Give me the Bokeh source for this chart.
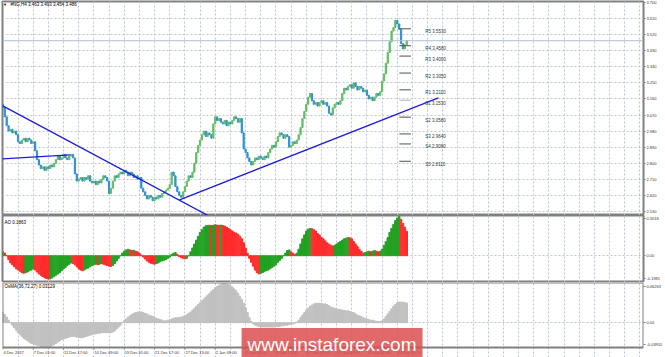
from bokeh.plotting import figure
from bokeh.layouts import column
from bokeh.models import Range1d, FixedTicker, Span, Label, ColumnDataSource
from bokeh.embed import file_html
from bokeh.resources import INLINE
from bokeh.core.properties import value

# ---------------- data ----------------
close = [
    3.11, 3.06, 3.01, 2.98, 2.99, 2.97, 2.98, 2.96, 2.92, 2.91,
    2.93, 2.94, 2.92, 2.94, 2.93, 2.91, 2.92, 2.87, 2.82, 2.79,
    2.77, 2.78, 2.76, 2.78, 2.77, 2.79, 2.78, 2.80, 2.82, 2.84,
    2.82, 2.83, 2.85, 2.83, 2.82, 2.84, 2.85, 2.83, 2.74, 2.70,
    2.71, 2.72, 2.70, 2.72, 2.71, 2.73, 2.70, 2.69, 2.70, 2.68,
    2.70, 2.69, 2.71, 2.73, 2.72, 2.70, 2.63, 2.66, 2.70, 2.73,
    2.72, 2.74, 2.75, 2.74, 2.76, 2.75, 2.73, 2.75, 2.74, 2.72,
    2.73, 2.71, 2.72, 2.66, 2.64, 2.62, 2.60, 2.62, 2.61, 2.59,
    2.61, 2.60, 2.62, 2.61, 2.63, 2.64, 2.65, 2.66, 2.68, 2.75,
    2.73, 2.67, 2.64, 2.62, 2.61, 2.64, 2.67, 2.70, 2.73, 2.72,
    2.75, 2.80, 2.86, 2.90, 2.93, 2.96, 2.98, 2.95, 2.97, 2.96,
    2.94, 3.02, 3.06, 3.04, 3.05, 3.03, 3.02, 3.04, 3.01, 3.03,
    3.02, 3.04, 3.06, 3.05, 3.03, 3.05, 2.97, 2.88, 2.86, 2.83,
    2.81, 2.79, 2.81, 2.83, 2.82, 2.84, 2.83, 2.82, 2.84, 2.83,
    2.86, 2.88, 2.90, 2.89, 2.92, 2.95, 2.97, 2.96, 2.94, 2.96,
    2.95, 2.89, 2.90, 2.92, 2.91, 2.93, 2.96, 3.00, 3.05, 3.09,
    3.13, 3.17, 3.19, 3.15, 3.13, 3.14, 3.12, 3.14, 3.15, 3.13,
    3.14, 3.12, 3.08, 3.07, 3.11, 3.13, 3.14, 3.13, 3.15, 3.19,
    3.22, 3.21, 3.23, 3.24, 3.22, 3.25, 3.23, 3.21, 3.23, 3.22,
    3.20, 3.21, 3.18, 3.16, 3.17, 3.15, 3.17, 3.19, 3.18, 3.20,
    3.26, 3.30, 3.36, 3.42, 3.48, 3.54, 3.56, 3.60, 3.58, 3.55,
    3.47, 3.44, 3.463, 3.486,
]
first_open = 3.13

ao = [
    0.03, 0.02, 0.00, -0.03, -0.055, -0.07, -0.085, -0.10, -0.11, -0.12,
    -0.13, -0.135, -0.13, -0.125, -0.115, -0.11, -0.10, -0.11, -0.125, -0.14,
    -0.15, -0.16, -0.17, -0.175, -0.18, -0.178, -0.17, -0.16, -0.15, -0.14,
    -0.13, -0.115, -0.10, -0.09, -0.075, -0.065, -0.055, -0.06, -0.07, -0.085,
    -0.10, -0.11, -0.115, -0.11, -0.10, -0.095, -0.085, -0.075, -0.07, -0.065,
    -0.07, -0.065, -0.06, -0.065, -0.07, -0.075, -0.08, -0.082, -0.075, -0.06,
    -0.04, -0.02, 0.00, 0.02, 0.035, 0.045, 0.05, 0.045, 0.04, 0.042,
    0.035, 0.03, 0.02, 0.005, -0.01, -0.025, -0.04, -0.05, -0.058, -0.062,
    -0.065, -0.06, -0.055, -0.045, -0.04, -0.035, -0.03, -0.02, -0.01, 0.01,
    0.02, 0.025, 0.01, -0.005, -0.015, -0.02, -0.025, -0.02, 0.00, 0.03,
    0.06, 0.09, 0.12, 0.15, 0.18, 0.20, 0.22, 0.23, 0.232, 0.235,
    0.232, 0.235, 0.238, 0.236, 0.234, 0.236, 0.233, 0.228, 0.22, 0.21,
    0.20, 0.19, 0.18, 0.175, 0.165, 0.15, 0.13, 0.10, 0.06, 0.02,
    -0.02, -0.05, -0.08, -0.11, -0.13, -0.14, -0.135, -0.13, -0.12, -0.115,
    -0.11, -0.10, -0.09, -0.08, -0.07, -0.05, -0.035, -0.02, 0.00, 0.02,
    0.04, 0.045, 0.03, 0.02, 0.01, 0.02, 0.05, 0.09, 0.13, 0.16,
    0.19, 0.205, 0.21, 0.208, 0.20, 0.19, 0.17, 0.16, 0.14, 0.13,
    0.115, 0.10, 0.09, 0.08, 0.075, 0.08, 0.09, 0.10, 0.11, 0.12,
    0.13, 0.135, 0.14, 0.138, 0.13, 0.11, 0.09, 0.07, 0.05, 0.035,
    0.02, 0.025, 0.03, 0.035, 0.03, 0.035, 0.04, 0.035, 0.03, 0.035,
    0.05, 0.08, 0.11, 0.14, 0.18, 0.21, 0.24, 0.27, 0.29, 0.3018,
    0.28, 0.25, 0.22, 0.1863,
]

osma = [
    0.017, 0.013, 0.009, 0.004, 0.000, -0.004, -0.008, -0.012, -0.016, -0.019,
    -0.022, -0.025, -0.027, -0.029, -0.031, -0.033, -0.034, -0.035, -0.036, -0.037,
    -0.038, -0.039, -0.0395, -0.0395, -0.039, -0.038, -0.037, -0.035, -0.033, -0.031,
    -0.029, -0.027, -0.026, -0.025, -0.024, -0.023, -0.022, -0.022, -0.022, -0.023,
    -0.024, -0.024, -0.024, -0.023, -0.022, -0.021, -0.020, -0.019, -0.018, -0.018,
    -0.017, -0.017, -0.016, -0.016, -0.016, -0.016, -0.016, -0.016, -0.015, -0.013,
    -0.010, -0.007, -0.004, 0.000, 0.003, 0.006, 0.009, 0.011, 0.013, 0.015,
    0.016, 0.017, 0.0175, 0.017, 0.016, 0.015, 0.014, 0.012, 0.011, 0.010,
    0.008, 0.007, 0.006, 0.005, 0.004, 0.003, 0.003, 0.004, 0.005, 0.006,
    0.007, 0.008, 0.008, 0.008, 0.009, 0.010, 0.011, 0.013, 0.015, 0.017,
    0.020, 0.023, 0.026, 0.029, 0.032, 0.035, 0.038, 0.041, 0.044, 0.047,
    0.050, 0.053, 0.056, 0.058, 0.060, 0.0615, 0.0626, 0.0626, 0.062, 0.061,
    0.059, 0.057, 0.054, 0.051, 0.047, 0.042, 0.037, 0.031, 0.024, 0.016,
    0.008, 0.002, -0.002, -0.004, -0.005, -0.006, -0.007, -0.007, -0.007, -0.007,
    -0.007, -0.007, -0.007, -0.007, -0.006, -0.006, -0.006, -0.005, -0.005, -0.004,
    -0.004, -0.003, -0.003, -0.002, -0.001, 0.001, 0.004, 0.008, 0.012, 0.016,
    0.020, 0.023, 0.026, 0.028, 0.030, 0.031, 0.031, 0.031, 0.031, 0.030,
    0.030, 0.029, 0.027, 0.025, 0.024, 0.023, 0.022, 0.021, 0.021, 0.020,
    0.020, 0.019, 0.019, 0.018, 0.017, 0.016, 0.014, 0.012, 0.011, 0.010,
    0.008, 0.007, 0.006, 0.005, 0.004, 0.004, 0.003, 0.002, 0.002, 0.002,
    0.003, 0.006, 0.010, 0.014, 0.018, 0.022, 0.026, 0.029, 0.032, 0.033,
    0.033, 0.033, 0.032, 0.0313,
]

x_labels = ["4 Dec 2017", "7 Dec 01:00", "11 Dec 17:00", "14 Dec 09:00",
            "19 Dec 01:00", "21 Dec 17:00", "27 Dec 13:00", "2 Jan 09:00",
            "5 Jan 01:00", "9 Jan 17:00", "12 Jan 09:00", "17 Jan 05:00",
            "19 Jan 21:00", "24 Jan 13:00"]
x_label_bars = [0, 16, 32, 48, 64, 80, 96, 112, 128, 144, 160, 176, 192, 208]

price_ticks = [3.70, 3.61, 3.52, 3.43, 3.34, 3.25, 3.16, 3.07, 2.98, 2.89, 2.80, 2.71, 2.62, 2.53]
price_tick_labels = ["3.700", "3.610", "3.520", "3.430", "3.340", "3.250", "3.160",
                     "3.070", "2.980", "2.890", "2.800", "2.710", "2.620", "2.530"]

ao_label_pos = [0.286, 0.0, -0.175]
ao_label_txt = ["0.3018", "0.00", "-0.1981"]
osma_label_pos = [0.0578, 0.0, -0.0348]
osma_label_txt = ["0.06263", "0.00", "-0.03955"]

piv_names = ["R5", "R4", "R3", "R2", "R1", "S1", "S2", "S3", "S4", "S5"]
piv_vals = [3.553, 3.458, 3.400, 3.305, 3.211, 3.153, 3.058, 2.964, 2.908, 2.811]

trend_down_x = [-0.3, 110]
trend_down_y = [3.123, 2.497]
trend_flat_x = [-0.3, 35.5]
trend_flat_y = [2.825, 2.847]
trend_up_x = [93.2, 229.7]
trend_up_y = [2.595, 3.166]

last_price = 3.486
title_main = "#NG,H4  3.463 3.493 3.454 3.486"
title_ao = "AO 0.1863"
title_osma = "OsMA(36,72,27) 0.03129"
watermark = "www.instaforex.com"

# ---------------- styling ----------------
FONT = "Liberation Sans"
UP, DOWN = "#62bd62", "#3190d2"
AO_UP, AO_DN = "#22a022", "#ff2b2b"
GRID = "#bcc6d4"
FRAME = "#808080"
FS = "4.5px"

x_start, x_end = -0.2, 337.86
xr = Range1d(x_start, x_end)

OS_TOP, OS_BOT, OS_LOW = 0.0642, -0.0396, -0.0556   # OsMA panel top/bottom, and strip below

bars = list(range(len(close)))
opens = [first_open] + close[:-1]
tops = [max(o, c) for o, c in zip(opens, close)]
bots = [min(o, c) for o, c in zip(opens, close)]
tops = [t if t - b > 0.003 else b + 0.003 for t, b in zip(tops, bots)]
ccol = [UP if c >= o else DOWN for o, c in zip(opens, close)]
aocol = [AO_UP] + [AO_UP if ao[i] > ao[i - 1] else AO_DN for i in range(1, len(ao))]

grid_ticks = list(range(8, 337, 8))


def make_fig(height, yr, top, bottom, ticks, labels):
    p = figure(width=665, height=height, x_range=xr, y_range=yr,
               min_border_left=2, min_border_right=19,
               min_border_top=top, min_border_bottom=bottom,
               y_axis_location="right", x_axis_location=None,
               output_backend="svg", toolbar_location=None)
    p.background_fill_color = "white"
    p.border_fill_color = "white"
    p.outline_line_color = FRAME
    p.outline_line_width = 2
    p.xgrid.ticker = FixedTicker(ticks=grid_ticks)
    p.grid.grid_line_color = GRID
    p.grid.grid_line_dash = "2 2"
    p.grid.grid_line_width = 1
    ya = p.yaxis[0]
    ya.ticker = FixedTicker(ticks=ticks)
    ya.major_label_overrides = {t: l for t, l in zip(ticks, labels)}
    ya.major_label_text_font = FONT
    ya.major_label_text_font_size = "4px"
    ya.major_label_text_color = "#333333"
    ya.major_label_standoff = 1
    ya.major_tick_out = 2
    ya.major_tick_in = 0
    ya.major_tick_line_color = FRAME
    ya.minor_tick_line_color = None
    ya.axis_line_color = None
    return p


# ---------------- main panel ----------------
p1 = make_fig(215, Range1d(2.5074, 3.7056), 1, 0, price_ticks, price_tick_labels)
p1.ygrid.ticker = FixedTicker(ticks=price_ticks)
p1.add_layout(Span(location=last_price, dimension="width", line_color="#aebbd0", line_width=1))

src = ColumnDataSource(dict(x=bars, top=tops, bottom=bots, color=ccol))
p1.vbar(x="x", top="top", bottom="bottom", width=0.65, color="color", source=src)

p1.line(trend_down_x, trend_down_y, line_color="#1c1ce0", line_width=1.3)
p1.line(trend_flat_x, trend_flat_y, line_color="#1c1ce0", line_width=1.3)
p1.line(trend_up_x, trend_up_y, line_color="#1c1ce0", line_width=1.3)

piv_colors = ["#505050"] * 5 + ["#b0b0b0"] + ["#505050"] * 4
p1.segment(x0=[209.1] * len(piv_vals), x1=[215.2] * len(piv_vals), y0=piv_vals, y1=piv_vals,
           line_color=piv_colors, line_width=1)
p1.text(x=[222.7] * len(piv_vals), y=piv_vals,
        text=[f"{n} {v:.4f}" for n, v in zip(piv_names, piv_vals)],
        text_font=value(FONT), text_font_size=FS, text_color="#333333",
        text_align="left", text_baseline="top", y_offset=0.5)

p1.add_layout(Label(x=1.1, y=3.6888, text="\u25bc", text_font=FONT, text_font_size="4px",
                    text_color="black", text_baseline="middle", text_align="center"))
p1.add_layout(Label(x=4.0, y=3.6888, text=title_main, text_font=FONT, text_font_size=FS,
                    text_color="black", text_baseline="middle", text_align="left"))

# ---------------- AO panel ----------------
p2 = make_fig(67, Range1d(-0.2058, 0.3095), 0, 0, ao_label_pos, ao_label_txt)
p2.ygrid.ticker = FixedTicker(ticks=[0])
p2.vbar(x=bars, top=ao, bottom=0, width=0.8, color=aocol)
p2.add_layout(Label(x=0.85, y=0.2557, text=title_ao, text_font=FONT, text_font_size=FS,
                    text_color="black", text_baseline="middle", text_align="left"))

# ---------------- OsMA panel (frame reaches the page bottom; time labels drawn inside it) ----------------
p3 = make_fig(75, Range1d(OS_LOW, OS_TOP), 0, 0, osma_label_pos, osma_label_txt)
p3.outline_line_color = None
p3.ygrid.ticker = FixedTicker(ticks=[0])
p3.xgrid.bounds = (OS_BOT, OS_TOP)
p3.vbar(x=bars, top=osma, bottom=0, width=0.8, color="#c0c0c0")
p3.quad(left=[x_start], right=[x_end], bottom=[OS_BOT], top=[OS_TOP],
        fill_color=None, line_color=FRAME, line_width=2)
p3.segment(x0=x_label_bars, x1=x_label_bars, y0=[OS_BOT] * len(x_label_bars),
           y1=[OS_BOT - 0.0035] * len(x_label_bars), line_color=FRAME, line_width=1)
p3.text(x=x_label_bars, y=[-0.0476] * len(x_label_bars), text=x_labels,
        text_font=value(FONT), text_font_size="4px", text_color="#333333",
        text_align="left", text_baseline="middle", x_offset=0.5)
p3.add_layout(Label(x=0.85, y=0.0578, text=title_osma, text_font=FONT, text_font_size=FS,
                    text_color="black", text_baseline="middle", text_align="left"))

p3.add_layout(Label(x=173.6, y=-0.0348, text=watermark, text_font=FONT,
                    text_font_size="19px", text_color="white",
                    background_fill_color="#dc4f4f", background_fill_alpha=0.85,
                    padding=6, text_align="center", text_baseline="middle"))

layout = column(p1, p2, p3, spacing=0)
open("out.html", "w").write(file_html(layout, INLINE))
